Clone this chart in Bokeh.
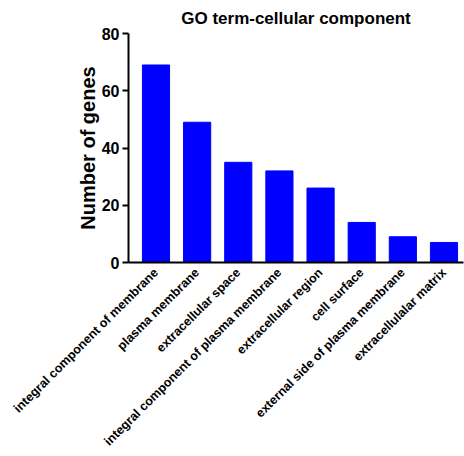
import math
from bokeh.plotting import figure
from bokeh.models import Range1d, FixedTicker, ColumnDataSource
from bokeh.embed import file_html
from bokeh.resources import INLINE

categories = [
    "integral component of membrane",
    "plasma membrane",
    "extracellular space",
    "integral component of plasma membrane",
    "extracellular region",
    "cell surface",
    "external side of plasma membrane",
    "extracellulalar matrix",
]
gene_counts = [69, 49, 35, 32, 26, 14, 9, 7]
y_ticks = [0, 20, 40, 60, 80]

positions = list(range(len(categories)))
source = ColumnDataSource(data=dict(x=positions, top=gene_counts))

FONT = "Liberation Sans"

p = figure(
    width=464, height=456,
    output_backend="svg", toolbar_location=None,
    x_range=Range1d(-0.668, 7.474), y_range=Range1d(0, 80),
    min_border_left=128, min_border_right=1, min_border_top=30,
    min_border_bottom=194,
)
p.vbar(x="x", top="top", width=0.66, bottom=0, source=source,
       fill_color="#0000FF", line_color="#0000FF", line_width=1)

p.title.text = "GO term-cellular component"
p.title.text_font = FONT
p.title.text_font_size = "17px"
p.title.text_font_style = "bold"
p.title.text_color = "black"
p.title.align = "center"
p.title.offset = 4
p.title.standoff = 12

p.grid.visible = False
p.outline_line_color = None

# y axis
ya = p.yaxis[0]
ya.ticker = FixedTicker(ticks=y_ticks)
ya.axis_label = "Number of genes"
ya.axis_label_text_font = FONT
ya.axis_label_text_font_size = "20px"
ya.axis_label_text_font_style = "bold"
ya.axis_label_text_color = "black"
ya.axis_label_standoff = 0
ya.major_label_text_font = FONT
ya.major_label_text_font_size = "16px"
ya.major_label_text_font_style = "bold"
ya.major_label_text_color = "black"
ya.axis_line_width = 2
ya.axis_line_color = "black"
ya.major_tick_line_width = 2
ya.major_tick_in = 0
ya.major_tick_out = 6
ya.minor_tick_line_color = None
ya.major_label_standoff = 3

# x axis
xa = p.xaxis[0]
xa.ticker = FixedTicker(ticks=positions)
xa.major_label_overrides = {i: c for i, c in zip(positions, categories)}
xa.major_label_orientation = math.pi / 4
xa.major_label_text_font = FONT
xa.major_label_text_font_size = "12.5px"
xa.major_label_text_font_style = "bold"
xa.major_label_text_color = "black"
xa.major_label_standoff = 2
xa.major_tick_line_color = None
xa.minor_tick_line_color = None
xa.axis_line_width = 2
xa.axis_line_color = "black"

open("out.html", "w").write(file_html(p, INLINE))
